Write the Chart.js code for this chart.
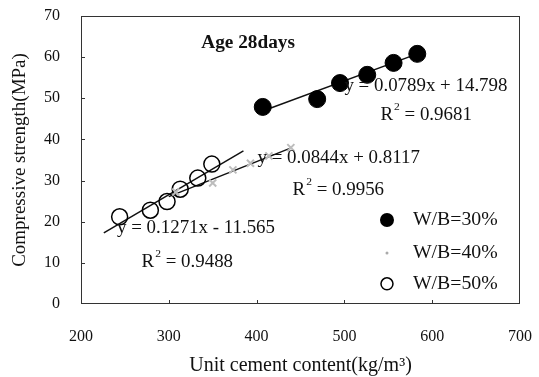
<!DOCTYPE html>
<html><head><meta charset="utf-8">
<script src="https://cdn.jsdelivr.net/npm/chart.js@4/dist/chart.umd.min.js"></script>
<style>html,body{margin:0;padding:0;background:#fff}#wrap{width:539px;height:377px}</style>
</head><body><div id="wrap"><canvas id="c" width="539" height="377"></canvas></div>
<script>
// ---- data ----
const xTicks = [200, 300, 400, 500, 600, 700];
const yTicks = [0, 10, 20, 30, 40, 50, 60, 70];
const seriesNames = ['W/B=30%', 'W/B=40%', 'W/B=50%'];
const wb30X = [407, 469, 495, 526, 556, 583];
const wb30Y = [47.9, 49.8, 53.7, 55.7, 58.6, 60.8];
const wb40X = [308, 350, 373, 393, 414, 439];
const wb40Y = [27.2, 29.4, 32.6, 34.2, 36.0, 38.0];
const wb50X = [244, 279, 298, 313, 333, 349];
const wb50Y = [21.2, 22.8, 24.9, 27.9, 30.6, 34.0];
const trend30X = [407, 583];
const trend30Y = [46.9, 60.8];
const trend40X = [300, 440];
const trend40Y = [26.1, 38.0];
const trend50X = [226, 385];
const trend50Y = [17.3, 37.2];
const equations = ['y = 0.0789x + 14.798', 'y = 0.0844x + 0.8117', 'y = 0.1271x - 11.565'];
const r2Values = ['0.9681', '0.9956', '0.9488'];
const chartTitle = 'Age 28days';

const pts = (xs, ys) => xs.map((v, i) => ({x: v, y: ys[i]}));
const SERIF = '"Liberation Serif", "Times New Roman", serif';

// annotation anchors (data coordinates)
const notes = [
  {kind: 'eq', i: 0, x: 500, y: 53.0},
  {kind: 'r2', i: 0, x: 541, y: 45.9},
  {kind: 'eq', i: 1, x: 401, y: 35.5},
  {kind: 'r2', i: 1, x: 441, y: 27.7},
  {kind: 'eq', i: 2, x: 241, y: 18.5},
  {kind: 'r2', i: 2, x: 269, y: 10.2}
];

function stretchText(ctx, txt, px, py, sx) {
  ctx.save();
  ctx.translate(px, py);
  ctx.scale(sx, 1);
  ctx.fillText(txt, 0, 0);
  const w = ctx.measureText(txt).width * sx;
  ctx.restore();
  return w;
}

const overlay = {
  id: 'overlay',
  afterDraw(chart) {
    const {ctx, chartArea: a, scales: {x, y}} = chart;
    ctx.save();
    ctx.strokeStyle = '#333';
    ctx.lineWidth = 1;
    ctx.strokeRect(a.left + 0.5, a.top + 0.5, a.right - a.left - 1, a.bottom - a.top - 1);
    ctx.beginPath();
    yTicks.slice(1, -1).forEach(v => {
      const py = Math.round(y.getPixelForValue(v)) + 0.5;
      ctx.moveTo(a.left, py); ctx.lineTo(a.left + 4, py);
    });
    xTicks.slice(1, -1).forEach(v => {
      const px = Math.round(x.getPixelForValue(v)) + 0.5;
      ctx.moveTo(px, a.bottom); ctx.lineTo(px, a.bottom - 4);
    });
    ctx.stroke();

    ctx.fillStyle = '#111';
    ctx.textBaseline = 'middle';
    ctx.textAlign = 'left';
    // title
    ctx.font = 'bold 18px ' + SERIF;
    stretchText(ctx, chartTitle, x.getPixelForValue(337), y.getPixelForValue(63.4), 1.07);

    const SX = 1.05;
    notes.forEach(n => {
      const px = x.getPixelForValue(n.x), py = y.getPixelForValue(n.y);
      ctx.font = '18px ' + SERIF;
      if (n.kind === 'eq') {
        stretchText(ctx, equations[n.i], px, py, SX);
      } else {
        let w = stretchText(ctx, 'R', px, py, SX);
        ctx.font = '11px ' + SERIF;
        w += 1 + stretchText(ctx, '2', px + w + 1, py - 8, SX);
        ctx.font = '18px ' + SERIF;
        stretchText(ctx, ' = ' + r2Values[n.i], px + w, py, SX);
      }
    });

    // legend
    const lx = x.getPixelForValue(548.5), tx = x.getPixelForValue(578);
    const rows = [20.4, 12.4, 4.9].map(v => y.getPixelForValue(v));
    ctx.beginPath(); ctx.arc(lx, rows[0], 7, 0, Math.PI * 2); ctx.fillStyle = '#000'; ctx.fill();
    ctx.beginPath(); ctx.arc(lx, rows[1], 1.5, 0, Math.PI * 2); ctx.fillStyle = '#aaa'; ctx.fill();
    ctx.beginPath(); ctx.arc(lx, rows[2], 6, 0, Math.PI * 2); ctx.lineWidth = 1.5; ctx.strokeStyle = '#000'; ctx.stroke();
    ctx.fillStyle = '#111';
    ctx.font = '18px ' + SERIF;
    seriesNames.forEach((s, i) => stretchText(ctx, s, tx, rows[i], 1.1));
    ctx.restore();
  }
};

new Chart(document.getElementById('c'), {
  type: 'scatter',
  data: {
    datasets: [
      {label: seriesNames[0], data: pts(wb30X, wb30Y), pointRadius: 8.5, pointBackgroundColor: '#000', pointBorderColor: '#000', order: 1},
      {label: seriesNames[1], data: pts(wb40X, wb40Y), pointStyle: 'crossRot', pointRadius: 5, pointBorderWidth: 2, pointBorderColor: '#bdbdbd', order: 1},
      {label: seriesNames[2], data: pts(wb50X, wb50Y), pointRadius: 8, pointBackgroundColor: 'rgba(0,0,0,0)', pointBorderColor: '#000', pointBorderWidth: 1.5, order: 1},
      {type: 'line', label: 't30', data: pts(trend30X, trend30Y), borderColor: '#111', borderWidth: 1.5, pointRadius: 0, order: 3},
      {type: 'line', label: 't40', data: pts(trend40X, trend40Y), borderColor: '#111', borderWidth: 1.5, pointRadius: 0, order: 3},
      {type: 'line', label: 't50', data: pts(trend50X, trend50Y), borderColor: '#111', borderWidth: 1.5, pointRadius: 0, order: 3}
    ]
  },
  options: {
    responsive: false,
    animation: false,
    layout: {padding: {top: 16, right: 19, left: 0, bottom: 0}},
    plugins: {legend: {display: false}, tooltip: {enabled: false}},
    scales: {
      x: {
        type: 'linear', min: 200, max: 700,
        afterBuildTicks: s => { s.ticks = xTicks.map(v => ({value: v})); },
        afterFit: s => { s.height = 73; s.paddingLeft = 0; s.paddingRight = 0; },
        grid: {display: false, drawTicks: false}, border: {display: false},
        ticks: {padding: 23, color: '#111', font: {family: SERIF, size: 16}},
        title: {display: true, text: 'Unit cement content(kg/m³)', color: '#111', font: {family: SERIF, size: 20}, padding: {top: 0, bottom: -1}}
      },
      y: {
        type: 'linear', min: 0, max: 70,
        afterBuildTicks: s => { s.ticks = yTicks.map(v => ({value: v})); },
        afterFit: s => { s.width = 81; s.paddingTop = 0; s.paddingBottom = 0; },
        grid: {display: false, drawTicks: false}, border: {display: false},
        ticks: {padding: 21, color: '#111', font: {family: SERIF, size: 16}},
        title: {display: true, text: 'Compressive strength(MPa)', color: '#111', font: {family: SERIF, size: 19}, padding: {top: 9, bottom: 0}}
      }
    }
  },
  plugins: [overlay]
});
</script></body></html>
